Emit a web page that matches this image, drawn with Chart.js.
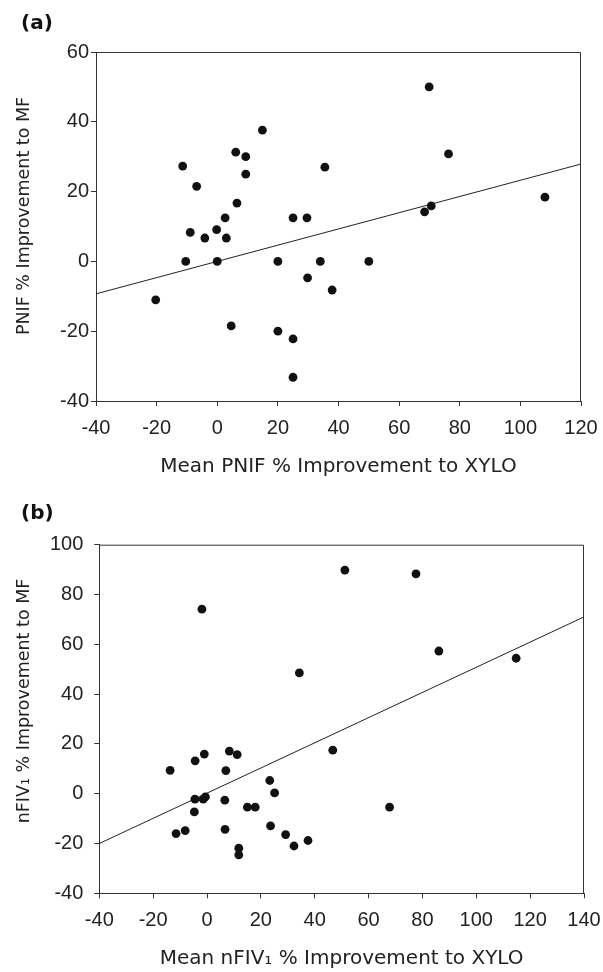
<!DOCTYPE html>
<html>
<head>
<meta charset="utf-8">
<script src="https://cdn.jsdelivr.net/npm/chart.js@4"></script>
<style>
  body { margin: 0; background: #fff; }
  canvas { display: block; }
</style>
</head>
<body>
<canvas id="chartA" width="603" height="486"></canvas>
<canvas id="chartB" width="603" height="486"></canvas>
<script>
// (a) PNIF
const pnifX = [-20.3, -11.4, -10.4, -8.9, -6.8, -4.1, -0.2, 0, 2.6, 3.0, 4.6, 6.1, 6.5, 9.4, 9.4, 14.9, 20, 20, 25, 25, 25, 29.6, 29.8, 34.0, 35.5, 37.9, 50, 68.4, 70.6, 69.9, 76.3, 108.1];
const pnifY = [-11.0, 27.3, 0, 8.3, 21.5, 6.7, 9.1, 0, 12.5, 6.7, -18.5, 31.3, 16.7, 30.0, 25.0, 37.6, 0, -20, 12.5, -22.2, -33.2, 12.5, -4.7, 0, 27.0, -8.2, 0, 14.2, 15.9, 50.0, 30.8, 18.4];
const pnifFitX = [-40, 120];
const pnifFitY = [-9.3, 27.9];

// (b) nFIV1
const fivX = [-13.7, -11.5, -8.1, -4.4, -4.5, -4.7, -1.9, -1.0, -1.4, -0.6, 6.6, 6.7, 7.0, 8.3, 11.2, 11.8, 11.8, 15.0, 17.9, 23.3, 23.6, 25.1, 29.2, 32.3, 34.3, 37.5, 46.7, 51.2, 67.8, 77.6, 86.1, 114.8];
const fivY = [9.4, -16.0, -14.8, 13.2, -2.2, -7.3, 74.1, 15.9, -2.2, -1.3, -2.6, -14.3, 9.3, 17.1, 15.7, -21.9, -24.6, -5.4, -5.4, 5.3, -12.9, 0.3, -16.4, -21.0, 48.5, -18.8, 17.5, 89.8, -5.4, 88.3, 57.3, 54.4];
const fivFitX = [-40, 140];
const fivFitY = [-20, 71];

const xTicksA = [-40, 120], yTicksA = [-40, 60];
const xTicksB = [-40, 140], yTicksB = [-40, 100];

function pairs(xs, ys) {
    return xs.map((x, i) => ({ x: x, y: ys[i] }));
}

// top + right edges of the plot box
const boxPlugin = {
    id: 'box',
    afterDraw(chart) {
        let a = chart.chartArea, ctx = chart.ctx;
        ctx.save();
        ctx.strokeStyle = '#333';
        ctx.lineWidth = 1;
        ctx.beginPath();
        ctx.moveTo(a.left, a.top + 0.5);
        ctx.lineTo(a.right - 0.5, a.top + 0.5);
        ctx.lineTo(a.right - 0.5, a.bottom);
        ctx.stroke();
        ctx.restore();
    }
};

// rotated y-axis title, placed freely
const yLabelPlugin = {
    id: 'yLabel',
    afterDraw(chart, args, opts) {
        let ctx = chart.ctx;
        ctx.save();
        ctx.translate(opts.x, opts.y);
        ctx.rotate(-Math.PI / 2);
        ctx.font = opts.size + 'px "DejaVu Sans"';
        ctx.fillStyle = '#222';
        ctx.textAlign = 'center';
        ctx.textBaseline = 'middle';
        ctx.fillText(opts.text, 0, 0);
        ctx.restore();
    }
};

function makeChart(id, cfg) {
    return new Chart(document.getElementById(id), {
        type: 'scatter',
        data: {
            datasets: [{
                data: pairs(cfg.xs, cfg.ys),
                backgroundColor: '#111',
                borderWidth: 0,
                pointRadius: 4.4,
                pointHoverRadius: 4.4
            }, {
                data: pairs(cfg.fitX, cfg.fitY),
                showLine: true,
                borderColor: '#222',
                borderWidth: 1,
                pointRadius: 0,
                fill: false
            }]
        },
        options: {
            responsive: false,
            animation: false,
            devicePixelRatio: 1,
            events: [],
            layout: { padding: { left: 21, right: cfg.padRight, top: 0, bottom: 0 } },
            plugins: {
                legend: { display: false },
                tooltip: { enabled: false },
                title: {
                    display: true,
                    text: cfg.panel,
                    align: 'start',
                    color: '#111',
                    font: { family: 'DejaVu Sans', size: 20, weight: 'bold' },
                    padding: cfg.titlePad
                },
                yLabel: { text: cfg.yTitle, x: 24, y: cfg.yTitleY, size: 17.5 }
            },
            scales: {
                x: {
                    type: 'linear',
                    min: cfg.xRange[0], max: cfg.xRange[1],
                    ticks: { stepSize: 20, color: '#222', padding: 10, font: { family: 'Liberation Sans', size: 20 } },
                    grid: { drawOnChartArea: false, tickLength: 5, color: '#333' },
                    border: { color: '#333', width: 1 },
                    title: {
                        display: true, text: cfg.xTitle, color: '#222',
                        font: { family: 'DejaVu Sans', size: 20 },
                        padding: { top: 0, bottom: cfg.xTitlePad }
                    },
                    afterFit(s) {
                        s.height = cfg.xAxisH;
                        s.paddingLeft = 0;
                        s.paddingRight = 0;
                    }
                },
                y: {
                    type: 'linear',
                    min: cfg.yRange[0], max: cfg.yRange[1],
                    ticks: { stepSize: 20, color: '#222', padding: cfg.yTickPad, font: { family: 'Liberation Sans', size: 20 } },
                    grid: { drawOnChartArea: false, tickLength: 5, color: '#333' },
                    border: { color: '#333', width: 1 },
                    afterFit(s) {
                        s.width = cfg.yAxisW;
                        s.paddingTop = 0;
                        s.paddingBottom = 0;
                    }
                }
            }
        },
        plugins: [boxPlugin, yLabelPlugin]
    });
}

makeChart('chartA', {
    xs: pnifX, ys: pnifY, fitX: pnifFitX, fitY: pnifFitY,
    xRange: xTicksA, yRange: yTicksA,
    panel: '(a)',
    titlePad: { top: 12, bottom: 16 },
    padRight: 22,
    yAxisW: 75,
    xAxisH: 85,
    yTickPad: 2,
    xTitle: 'Mean PNIF % Improvement to XYLO',
    xTitlePad: 7,
    yTitle: 'PNIF % Improvement to MF',
    yTitleY: 216
});

makeChart('chartB', {
    xs: fivX, ys: fivY, fitX: fivFitX, fitY: fivFitY,
    xRange: xTicksB, yRange: yTicksB,
    panel: '(b)',
    titlePad: { top: 16, bottom: 18.7 },
    padRight: 19,
    yAxisW: 78.3,
    xAxisH: 78.7,
    yTickPad: 11,
    xTitle: 'Mean nFIV\u2081 % Improvement to XYLO',
    xTitlePad: 1,
    yTitle: 'nFIV\u2081 % Improvement to MF',
    yTitleY: 215
});
</script>
</body>
</html>
